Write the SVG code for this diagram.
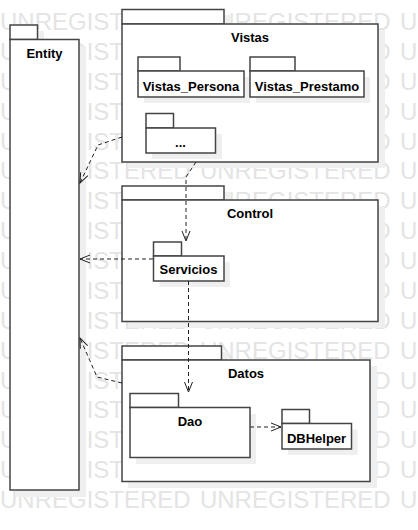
<svg xmlns="http://www.w3.org/2000/svg" width="418" height="530" viewBox="0 0 418 530">
<style>
.wm{font-family:"Liberation Sans",Arial,sans-serif;font-size:24px;fill:#e4e4e4;word-spacing:2.6px}
.sh{fill:#efefef;stroke:none}
.pk{fill:#ffffff;stroke:#444444;stroke-width:1.5}
.lb{font-family:"Liberation Sans",Arial,sans-serif;font-size:13px;font-weight:bold;fill:#000000;text-anchor:middle}
.cn{fill:none;stroke:#222222;stroke-width:1;stroke-dasharray:4,3}
</style>
<defs>
<marker id="open" markerUnits="userSpaceOnUse" markerWidth="12" markerHeight="10" viewBox="0 0 12 10" refX="11" refY="5" orient="auto">
<path d="M1,1 L11,5 L1,9" fill="none" stroke="#222222" stroke-width="1"/>
</marker>
</defs>
<rect width="418" height="530" fill="#ffffff"/>
<g id="watermark">
<text class="wm" x="0" y="30">UNREGISTERED UNREGISTERED U</text>
<text class="wm" x="0" y="59.9">UNREGISTERED UNREGISTERED U</text>
<text class="wm" x="0" y="89.8">UNREGISTERED UNREGISTERED U</text>
<text class="wm" x="0" y="119.6">UNREGISTERED UNREGISTERED U</text>
<text class="wm" x="0" y="149.5">UNREGISTERED UNREGISTERED U</text>
<text class="wm" x="0" y="179.4">UNREGISTERED UNREGISTERED U</text>
<text class="wm" x="0" y="209.3">UNREGISTERED UNREGISTERED U</text>
<text class="wm" x="0" y="239.1">UNREGISTERED UNREGISTERED U</text>
<text class="wm" x="0" y="269">UNREGISTERED UNREGISTERED U</text>
<text class="wm" x="0" y="298.9">UNREGISTERED UNREGISTERED U</text>
<text class="wm" x="0" y="328.8">UNREGISTERED UNREGISTERED U</text>
<text class="wm" x="0" y="358.6">UNREGISTERED UNREGISTERED U</text>
<text class="wm" x="0" y="388.5">UNREGISTERED UNREGISTERED U</text>
<text class="wm" x="0" y="418.4">UNREGISTERED UNREGISTERED U</text>
<text class="wm" x="0" y="448.3">UNREGISTERED UNREGISTERED U</text>
<text class="wm" x="0" y="478.1">UNREGISTERED UNREGISTERED U</text>
<text class="wm" x="0" y="508">UNREGISTERED UNREGISTERED U</text>
</g>
<g id="shadows">
<rect class="sh" x="16" y="31" width="28" height="15"/><rect class="sh" x="16" y="46" width="70" height="451"/>
<rect class="sh" x="128" y="15" width="102" height="15"/><rect class="sh" x="128" y="30" width="257" height="138"/>
<rect class="sh" x="128" y="192" width="102" height="14"/><rect class="sh" x="128" y="206" width="257" height="122"/>
<rect class="sh" x="128" y="352" width="100" height="14"/><rect class="sh" x="128" y="366" width="249" height="122"/>
</g>
<g id="Entity">
<rect class="pk" x="10" y="25" width="27.5" height="14.5"/>
<rect class="pk" x="10" y="39.5" width="69" height="450.5"/>
<text class="lb" x="44.5" y="58">Entity</text>
</g>
<g id="Vistas">
<rect class="pk" x="122" y="9.5" width="102" height="14.5"/>
<rect class="pk" x="122" y="24" width="256" height="138"/>
<text class="lb" x="250" y="42">Vistas</text>
</g>
<g id="Vistas_Persona">
<rect class="sh" x="144" y="77" width="106" height="26"/>
<rect class="pk" x="138" y="57" width="42" height="14"/>
<rect class="pk" x="138" y="71" width="106" height="26"/>
<text class="lb" x="191" y="90.5">Vistas_Persona</text>
</g>
<g id="Vistas_Prestamo">
<rect class="sh" x="256" y="77" width="114" height="26"/>
<rect class="pk" x="250" y="57" width="45" height="14"/>
<rect class="pk" x="250" y="71" width="114" height="26"/>
<text class="lb" x="307" y="90.5">Vistas_Prestamo</text>
</g>
<g id="Vistas_Otros">
<rect class="sh" x="152" y="134" width="70" height="25"/>
<rect class="pk" x="146" y="113.5" width="27.5" height="14.5"/>
<rect class="pk" x="146" y="128" width="69.5" height="25"/>
<text class="lb" x="180.5" y="147">...</text>
</g>
<g id="Control">
<rect class="pk" x="122" y="186" width="102" height="14"/>
<rect class="pk" x="122" y="200" width="256" height="121.5"/>
<text class="lb" x="250" y="218">Control</text>
</g>
<g id="Servicios">
<rect class="sh" x="159.5" y="262" width="70.5" height="25"/>
<rect class="pk" x="153.5" y="242" width="28" height="14"/>
<rect class="pk" x="153.5" y="256" width="70.5" height="25"/>
<text class="lb" x="188.5" y="274">Servicios</text>
</g>
<g id="Datos">
<rect class="pk" x="122" y="346" width="99.5" height="14"/>
<rect class="pk" x="122" y="360" width="248" height="121.5"/>
<text class="lb" x="246" y="378">Datos</text>
</g>
<g id="Dao">
<rect class="sh" x="136" y="414" width="120" height="50"/>
<rect class="pk" x="130" y="393.5" width="48.5" height="14"/>
<rect class="pk" x="130" y="407.5" width="120" height="50"/>
<text class="lb" x="190" y="426">Dao</text>
</g>
<g id="DBHelper">
<rect class="sh" x="288" y="429.5" width="69.5" height="25.5"/>
<rect class="pk" x="282" y="409.5" width="27.5" height="14"/>
<rect class="pk" x="282" y="423.5" width="69.5" height="25.5"/>
<text class="lb" x="316.5" y="442.5">DBHelper</text>
</g>
<g id="connectors">
<path class="cn" d="M122,137 L98,145 L80,183" marker-end="url(#open)"/>
<path class="cn" d="M196,162 L186,177 L186,241" marker-end="url(#open)"/>
<path class="cn" d="M153,259 L80,259" marker-end="url(#open)"/>
<path class="cn" d="M188.5,281 L188.5,392" marker-end="url(#open)"/>
<path class="cn" d="M122,383 L97,377 L80,338" marker-end="url(#open)"/>
<path class="cn" d="M250,427 L281,427" marker-end="url(#open)"/>
</g>
</svg>
